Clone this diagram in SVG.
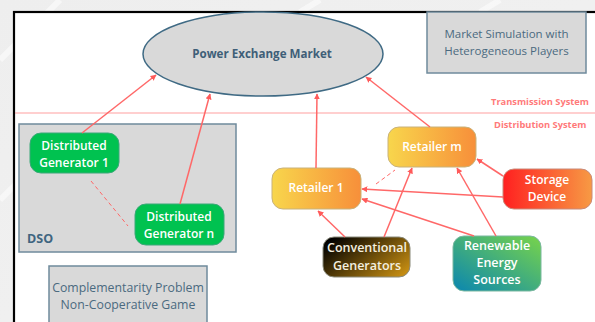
<svg xmlns="http://www.w3.org/2000/svg" width="595" height="322" viewBox="0 0 595 322">
<defs>
<style>
.box{fill:#d9d9d9;stroke:#6f8a9c;stroke-width:1.5}
.ttl{font-family:"Open Sans","Liberation Sans",sans-serif;fill:#4b6a80;font-size:11.5px;text-anchor:middle}
.nt{font-family:"Open Sans","Liberation Sans",sans-serif;fill:#ffffff;font-size:12px;font-weight:600;text-anchor:middle}
.lbl{font-family:"Open Sans","Liberation Sans",sans-serif;fill:#ff7a7a;font-size:9.3px;font-weight:700}
.conn line{stroke:#ff6868;stroke-width:1.5;fill:none}
.conn line.arr{marker-end:url(#ah)}
.conn line.dash{stroke-dasharray:4 3;stroke-width:1}
</style>
<marker id="ah" viewBox="0 0 10 10" refX="9" refY="5" markerWidth="6" markerHeight="6" markerUnits="userSpaceOnUse" orient="auto">
<path d="M0,0 L10,5 L0,10 z" fill="#ff5a5a"/>
</marker>
<linearGradient id="gRet" x1="0" y1="0" x2="1" y2="0">
<stop offset="0" stop-color="#f8d64c"/><stop offset="1" stop-color="#f78f3a"/>
</linearGradient>
<linearGradient id="gSto" x1="0" y1="0" x2="1" y2="0">
<stop offset="0" stop-color="#ff2020"/><stop offset="1" stop-color="#f79a44"/>
</linearGradient>
<linearGradient id="gCon" x1="0" y1="0.2" x2="1" y2="0.8">
<stop offset="0" stop-color="#000000"/><stop offset="1" stop-color="#c48c12"/>
</linearGradient>
<linearGradient id="gRen" x1="0" y1="1" x2="1" y2="0">
<stop offset="0" stop-color="#0a86b0"/><stop offset="1" stop-color="#78d44a"/>
</linearGradient>
<linearGradient id="bg" x1="0" y1="0" x2="1" y2="1">
<stop offset="0" stop-color="#eeeeee"/><stop offset="1" stop-color="#f2f2f2"/>
</linearGradient>
</defs>
<rect x="0" y="0" width="595" height="322" fill="url(#bg)"/>
<g stroke="#fafafa" stroke-width="6" opacity="0.8">
<line x1="0" y1="60" x2="60" y2="0"/>
<line x1="0" y1="200" x2="40" y2="160"/>
<line x1="300" y1="12" x2="320" y2="0"/>
<line x1="480" y1="12" x2="500" y2="0"/>
</g>
<rect x="14" y="12" width="600" height="330" fill="#ffffff" stroke="#000000" stroke-width="2.2"/>

<line x1="15" y1="113" x2="595" y2="113" stroke="#ff8080" stroke-width="1.2" stroke-opacity="0.75"/>
<text class="lbl" x="491" y="105">Transmission System</text>
<text class="lbl" x="494" y="128">Distribution System</text>

<g id="market">
<ellipse cx="263" cy="54" rx="120" ry="42" fill="#d9d9d9" stroke="#3f6a84" stroke-width="1.5"/>
<text x="262" y="58" font-family="'Open Sans','Liberation Sans',sans-serif" font-size="11.6" font-weight="700" fill="#3f5f78" text-anchor="middle">Power Exchange Market</text>
</g>

<g id="sim">
<rect class="box" x="427" y="12" width="159" height="61"/>
<text class="ttl" x="506.5" y="38">Market Simulation with</text>
<text class="ttl" x="506.5" y="55">Heterogeneous Players</text>
</g>

<g id="dso">
<rect class="box" x="19" y="124" width="217" height="128"/>
<text x="27" y="243" font-family="'Open Sans','Liberation Sans',sans-serif" font-size="12.5" font-weight="700" fill="#3f6580">DSO</text>
</g>

<g id="cp">
<rect class="box" x="49" y="266" width="158" height="70"/>
<text class="ttl" x="128" y="292" style="font-size:12.3px">Complementarity Problem</text>
<text class="ttl" x="128" y="309" style="font-size:12.3px">Non-Cooperative Game</text>
</g>

<g id="dg1">
<rect x="30" y="133" width="89" height="40" rx="11" fill="#00c250" stroke="#3aa878" stroke-width="1"/>
<text class="nt" x="74" y="150">Distributed</text>
<text class="nt" x="74" y="167">Generator 1</text>
</g>

<g id="dgn">
<rect x="135" y="204" width="89" height="41" rx="11" fill="#00c250" stroke="#3aa878" stroke-width="1"/>
<text class="nt" x="179" y="221">Distributed</text>
<text class="nt" x="179" y="238">Generator n</text>
</g>

<g id="retm">
<rect x="388" y="127" width="88" height="40" rx="11" fill="url(#gRet)" stroke="#c9b27a" stroke-width="1"/>
<text class="nt" x="432" y="151">Retailer m</text>
</g>

<g id="ret1">
<rect x="272" y="168" width="89" height="41" rx="11" fill="url(#gRet)" stroke="#c9b27a" stroke-width="1"/>
<text class="nt" x="316" y="192">Retailer 1</text>
</g>

<g id="storage">
<rect x="503" y="169" width="89" height="40" rx="11" fill="url(#gSto)" stroke="#c98a7a" stroke-width="1"/>
<text class="nt" x="547" y="184">Storage</text>
<text class="nt" x="547" y="201">Device</text>
</g>

<g id="conv">
<rect x="323" y="237" width="87" height="40" rx="11" fill="url(#gCon)" stroke="#8a8a7a" stroke-width="1"/>
<text class="nt" x="367" y="252" style="font-size:12.5px;fill:#f4f0e0">Conventional</text>
<text class="nt" x="367" y="270" style="font-size:12.5px;fill:#f4f0e0">Generators</text>
</g>

<g id="ren">
<rect x="453" y="236" width="88" height="55" rx="11" fill="url(#gRen)" stroke="#7ab8a0" stroke-width="1"/>
<text class="nt" x="497" y="250" style="font-size:12.5px">Renewable</text>
<text class="nt" x="497" y="267" style="font-size:12.5px">Energy</text>
<text class="nt" x="497" y="284" style="font-size:12.5px">Sources</text>
</g>

<g id="connectors" class="conn">
<line class="arr" x1="82" y1="133" x2="156" y2="75"/>
<line class="arr" x1="180" y1="204" x2="210" y2="94"/>
<line class="arr" x1="316" y1="168" x2="317" y2="94"/>
<line class="arr" x1="430" y1="127" x2="366" y2="77"/>
<line class="arr" x1="503" y1="176" x2="477" y2="159"/>
<line class="arr" x1="503" y1="197" x2="362" y2="189"/>
<line class="arr" x1="474" y1="236" x2="362" y2="199"/>
<line class="arr" x1="496" y1="236" x2="457" y2="168"/>
<line class="arr" x1="345" y1="237" x2="318" y2="211"/>
<line class="arr" x1="384" y1="237" x2="412" y2="168"/>
<line class="dash" x1="376" y1="184" x2="395" y2="170"/>
<line class="dash" x1="91" y1="181" x2="128" y2="226"/>
</g>
</svg>
